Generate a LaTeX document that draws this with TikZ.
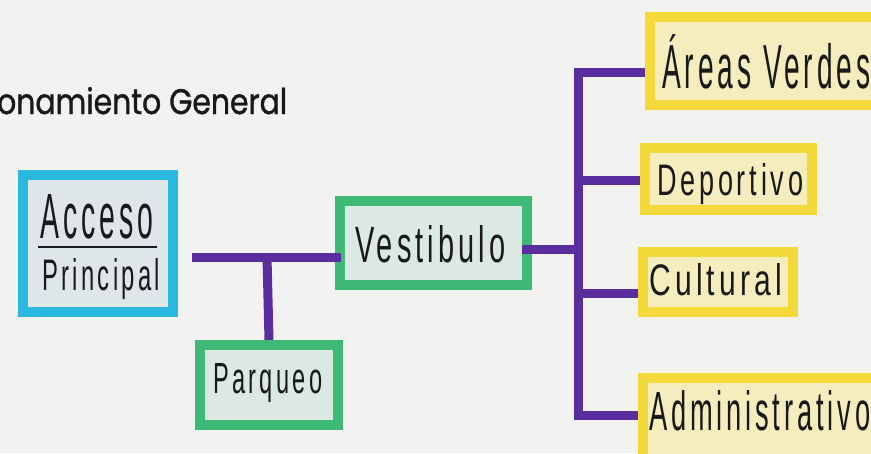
\documentclass[tikz,border=0pt]{standalone}
\usepackage{fontspec}
\setmainfont{Liberation Sans}
\newfontfamily\hand[LetterSpace=14]{Liberation Sans}
\newfontfamily\titlefont[FakeBold=1.2]{Poppins}
\definecolor{bgc}{RGB}{242,242,241}
\definecolor{cyanb}{RGB}{42,184,224}
\definecolor{cyanf}{RGB}{222,230,234}
\definecolor{greenb}{RGB}{62,186,118}
\definecolor{greenf}{RGB}{220,232,226}
\definecolor{yellb}{RGB}{243,218,58}
\definecolor{yellf}{RGB}{245,237,190}
\definecolor{purp}{RGB}{90,46,158}
\definecolor{ink}{RGB}{25,25,25}
\begin{document}
\begin{tikzpicture}[x=1pt,y=-1pt,
  box/.style={draw, rectangle, line width=10pt, inner sep=0pt, outer sep=5pt},
  cbox/.style={box, draw=cyanb, fill=cyanf},
  gbox/.style={box, draw=greenb, fill=greenf},
  ybox/.style={box, draw=yellb, fill=yellf},
  wire/.style={draw=purp, line width=9pt, line join=miter},
  lbl/.style={anchor=base west, inner sep=0pt, text=ink, font=\hand}]
\fill[bgc] (0,0) rectangle (871,453);
\useasboundingbox (0,0) rectangle (871,453);

% title
\node[lbl, anchor=base west, font=\titlefont] (title) at (-3,114) {\resizebox{290pt}{27pt}{onamiento General}};

% boxes
\node[cbox, minimum width=150pt, minimum height=137pt] (acc) at (98,243.5) {};
\node[gbox, minimum width=187pt, minimum height=84pt] (ves) at (433.5,243) {};
\node[gbox, minimum width=138pt, minimum height=80pt] (par) at (269,385) {};
\node[ybox, minimum width=240pt, minimum height=88pt] (are) at (770,61) {};
\node[ybox, minimum width=167pt, minimum height=62pt] (dep) at (728.5,179) {};
\node[ybox, minimum width=150pt, minimum height=60pt] (cul) at (718,282) {};
\node[ybox, minimum width=247pt, minimum height=92pt] (adm) at (766.5,424) {};

% labels
\node[lbl] (accT) at (40,238) {\resizebox{113pt}{44pt}{Acceso}};
\draw[ink, line width=2pt] (38,247) -- (157,247);
\node[lbl] (accB) at (42,290) {\resizebox{118pt}{32pt}{Principal}};
\node[lbl] (vesT) at (355,262) {\resizebox{150pt}{37pt}{Vestibulo}};
\node[lbl] (parT) at (213,393) {\resizebox{109pt}{30pt}{Parqueo}};
\node[lbl] (areT) at (662,88) {\resizebox{208pt}{54pt}{Áreas Verdes}};
\node[lbl] (depT) at (657,195) {\resizebox{146pt}{32pt}{Deportivo}};
\node[lbl] (culT) at (649,295) {\resizebox{133pt}{32pt}{Cultural}};
\node[lbl] (admT) at (649,430) {\resizebox{221pt}{40pt}{Administrativo}};

% connectors
\coordinate (j1) at (267,257);
\coordinate (j2) at (578,249);
\coordinate (bt) at (578,72);
\coordinate (b1) at (578,180);
\coordinate (b2) at (578,293);
\coordinate (bb) at (578,415);
\draw[wire, shorten <=14pt, shorten >=-6pt] (acc.east |- j1) -- (ves.west |- j1);
\draw[wire] (j1) -- (par.north);
\draw[wire, shorten <=-10pt] (ves.east |- j2) -- (j2);
\draw[wire] (are.west |- bt) -- (bt) -- (bb) -- (adm.west |- bb);
\draw[wire] (b1) -- (dep.west |- b1);
\draw[wire] (b2) -- (cul.west |- b2);
\end{tikzpicture}
\end{document}
